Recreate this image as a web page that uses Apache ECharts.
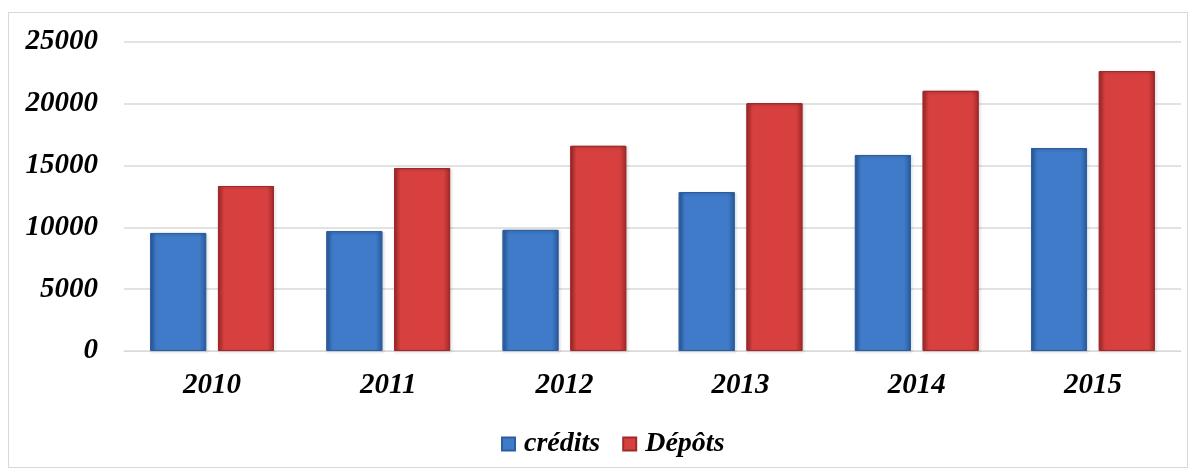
<!DOCTYPE html>
<html>
<head>
<meta charset="utf-8">
<script src="https://cdn.jsdelivr.net/npm/echarts@6/dist/echarts.min.js"></script>
<style>
  html, body { margin: 0; padding: 0; background: #fff; }
  #main { position: absolute; left: 8px; top: 12px; width: 1180px; height: 456px; border: 1px solid #d9d9d9; box-sizing: border-box; }
</style>
</head>
<body>
<div id="main"></div>
<script>
// données
var annees = ['2010', '2011', '2012', '2013', '2014', '2015'];
var credits = [9550, 9700, 9800, 12860, 15860, 16420];
var depots = [13350, 14800, 16600, 20050, 21050, 22650];

var myChart = echarts.init(document.getElementById('main'));

var police = {
    fontFamily: 'Liberation Serif',
    fontWeight: 'bold',
    fontStyle: 'italic',
    fontSize: 29,
    color: '#000'
};

function degrade(base, fonce) {
    return new echarts.graphic.LinearGradient(0, 0, 1, 0, [
        {offset: 0, color: fonce},
        {offset: 0.12, color: base},
        {offset: 0.88, color: base},
        {offset: 1, color: fonce}
    ]);
}

option = {
    textStyle: police,
    grid: {
        left: 115,
        right: 6,
        top: 29,
        bottom: 116
    },
    legend: {
        bottom: 4,
        left: 487,
        icon: 'rect',
        itemWidth: 13,
        itemHeight: 13,
        itemGap: 22,
        textStyle: Object.assign({}, police, {fontSize: 28, padding: [0, 0, 0, 4]}),
        data: ['crédits', 'Dépôts']
    },
    xAxis: {
        type: 'category',
        data: annees,
        axisLine: {lineStyle: {color: '#d9d9d9'}},
        axisTick: {show: false},
        axisLabel: Object.assign({margin: 20}, police)
    },
    yAxis: {
        type: 'value',
        min: 0,
        max: 25000,
        interval: 5000,
        axisLine: {show: false},
        axisTick: {show: false},
        splitLine: {lineStyle: {color: '#d9d9d9', width: 1.5}},
        axisLabel: Object.assign({
            margin: 26,
            formatter: function (v) { return String(v); }
        }, police)
    },
    series: [
        {
            name: 'crédits',
            type: 'bar',
            barWidth: 56,
            barGap: '21%',
            data: credits,
            itemStyle: {
                color: degrade('#3f7bc8', '#2a5a9e'),
                borderColor: '#2d5fa0',
                borderWidth: 1,
                shadowColor: 'rgba(0,0,0,0.25)',
                shadowBlur: 3,
                shadowOffsetX: 1,
                shadowOffsetY: 1
            }
        },
        {
            name: 'Dépôts',
            type: 'bar',
            barWidth: 56,
            data: depots,
            itemStyle: {
                color: degrade('#d84040', '#a52a2a'),
                borderColor: '#9e2a2a',
                borderWidth: 1,
                shadowColor: 'rgba(0,0,0,0.25)',
                shadowBlur: 3,
                shadowOffsetX: 1,
                shadowOffsetY: 1
            }
        }
    ]
};

myChart.setOption(option);
</script>
</body>
</html>
